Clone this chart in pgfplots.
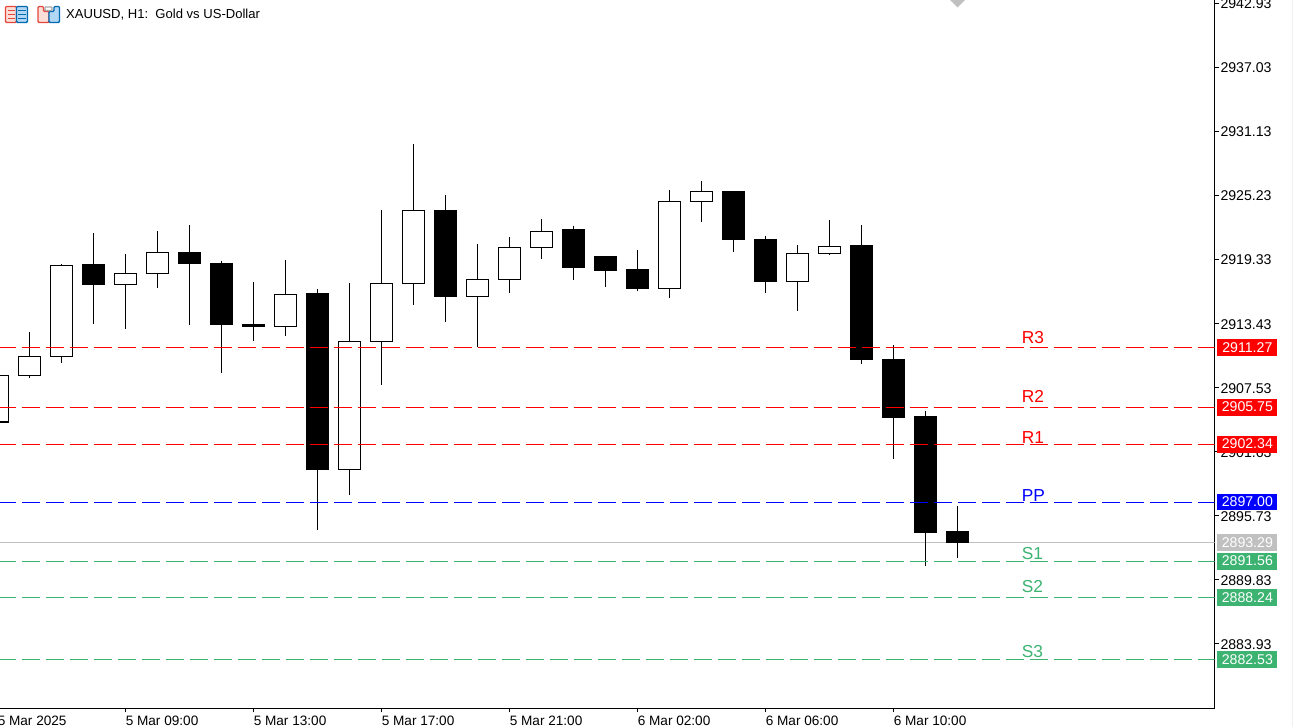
\documentclass[border=0pt]{standalone}
\usepackage{pgfplots}
\pgfplotsset{compat=1.18}
\usepackage{fontspec}
\setmainfont{Liberation Sans}
\definecolor{sgreen}{RGB}{60,179,113}
\definecolor{silverc}{RGB}{192,192,192}
\definecolor{iconred}{RGB}{228,72,60}
\definecolor{iconblue}{RGB}{0,105,175}
\definecolor{iconredl}{RGB}{252,222,216}
\definecolor{iconbluel}{RGB}{176,216,246}
\tikzset{
  lbl/.style={anchor=west,inner sep=0pt,font=\fontsize{13}{15}\selectfont},
  pbox/.style={anchor=west,inner sep=0pt,minimum width=45pt,minimum height=12.6pt,text=white,font=\fontsize{10.6}{12}\selectfont},
}
% colour, index, low, body bottom, body top, high
\newcommand{\candle}[6]{%
  \pgfmathsetmacro\xL{#2-0.333}\pgfmathsetmacro\xR{#2+0.333}%
  \addplot[black,line width=0.85pt,no markers] coordinates {(#2,#3) (#2,#6)};%
  \addplot[draw=black,fill=#1,line width=0.85pt,no markers,line join=miter] coordinates {(\xL,#4) (\xR,#4) (\xR,#5) (\xL,#5)} -- cycle;%
}
\newcommand{\wcandle}[5]{\candle{white}{#1}{#2}{#3}{#4}{#5}}
\newcommand{\bcandle}[5]{\candle{black}{#1}{#2}{#3}{#4}{#5}}
\newcommand{\level}[2]{\addplot[#1,line width=0.8pt,dash pattern=on 13.5pt off 4.5pt,line cap=butt,no markers] coordinates {(0,#2) (38.03,#2)};}
\begin{document}
\begin{tikzpicture}
\path[use as bounding box] (0pt,0pt) rectangle (969.75pt,545.25pt);
\begin{axis}[
  at={(-1.875pt,14.0pt)},anchor=south west,
  scale only axis,width=912.75pt,height=531.2pt,
  xmin=0,xmax=38.03,ymin=2878.00,ymax=2943.25,
  axis x line*=bottom,axis y line*=right,
  axis line style={line width=0.85pt,black},
  tick style={line width=0.75pt,black},
  major tick length=3pt,tick align=outside,
  xtick={0,4,8,12,16,20,24,28},
  xticklabels={5 Mar 2025,5 Mar 09:00,5 Mar 13:00,5 Mar 17:00,5 Mar 21:00,6 Mar 02:00,6 Mar 06:00,6 Mar 10:00},
  ytick={2883.93,2889.83,2895.73,2901.63,2907.53,2913.43,2919.33,2925.23,2931.13,2937.03,2942.93},
  yticklabels={2883.93,2889.83,2895.73,2901.63,2907.53,2913.43,2919.33,2925.23,2931.13,2937.03,2942.93},
  yticklabel style={font=\fontsize{10.6}{12}\selectfont,anchor=west,inner xsep=1.3pt,yshift=-0.3pt},
  xticklabel style={font=\fontsize{10.2}{12}\selectfont,anchor=north west,inner xsep=0pt,inner ysep=2.2pt},
]
\addplot[silverc,line width=0.85pt,no markers] coordinates {(0,2893.29) (38.03,2893.29)};
\wcandle{0}{2904.38}{2904.38}{2908.68}{2908.68}
\wcandle{1}{2908.46}{2908.68}{2910.43}{2912.67}
\wcandle{2}{2909.84}{2910.43}{2918.81}{2918.93}
\bcandle{3}{2913.43}{2917.02}{2918.84}{2921.79}
\wcandle{4}{2912.97}{2917.06}{2918.07}{2919.85}
\wcandle{5}{2916.75}{2918.07}{2920.01}{2921.97}
\bcandle{6}{2913.34}{2918.96}{2920.01}{2922.52}
\bcandle{7}{2908.92}{2913.34}{2918.99}{2919.21}
\bcandle{8}{2911.86}{2913.15}{2913.40}{2917.27}
\wcandle{9}{2912.33}{2913.19}{2916.14}{2919.30}
\bcandle{10}{2894.43}{2900.00}{2916.17}{2916.63}
\wcandle{11}{2897.65}{2900.00}{2911.81}{2917.18}
\wcandle{12}{2907.83}{2911.81}{2917.15}{2923.90}
\wcandle{13}{2915.18}{2917.15}{2923.88}{2929.98}
\bcandle{14}{2913.61}{2915.92}{2923.90}{2925.29}
\wcandle{15}{2911.26}{2915.95}{2917.52}{2920.77}
\wcandle{16}{2916.29}{2917.52}{2920.47}{2921.42}
\wcandle{17}{2919.42}{2920.47}{2921.94}{2923.08}
\bcandle{18}{2917.48}{2918.59}{2922.15}{2922.43}
\bcandle{19}{2916.84}{2918.31}{2919.58}{2919.67}
\bcandle{20}{2916.47}{2916.65}{2918.38}{2920.22}
\wcandle{21}{2915.83}{2916.69}{2924.71}{2925.75}
\wcandle{22}{2922.83}{2924.71}{2925.63}{2926.58}
\bcandle{23}{2920.06}{2921.17}{2925.65}{2925.65}
\bcandle{24}{2916.29}{2917.30}{2921.23}{2921.51}
\wcandle{25}{2914.63}{2917.34}{2919.92}{2920.68}
\wcandle{26}{2919.79}{2919.92}{2920.56}{2922.98}
\bcandle{27}{2909.75}{2910.11}{2920.59}{2922.52}
\bcandle{28}{2900.99}{2904.77}{2910.09}{2911.47}
\bcandle{29}{2891.14}{2894.18}{2904.84}{2905.39}
\bcandle{30}{2891.88}{2893.26}{2894.24}{2896.64}
\level{red}{2911.27}
\level{red}{2905.75}
\level{red}{2902.34}
\level{blue}{2897.00}
\level{sgreen}{2891.56}
\level{sgreen}{2888.24}
\level{sgreen}{2882.53}
\addplot[only marks,mark=square*,mark size=3.7pt,mark options={rotate=45,silverc,fill=silverc,draw=silverc}] coordinates {(30,2943.25)};
\end{axis}
\begin{axis}[
  at={(-1.875pt,14.0pt)},anchor=south west,
  scale only axis,width=912.75pt,height=531.2pt,
  xmin=0,xmax=38.03,ymin=2878.00,ymax=2943.25,
  hide axis,clip=false,
]
\node[lbl,text=red] at (axis cs:32.0,2912.18) {R3};
\node[lbl,text=red] at (axis cs:32.0,2906.72) {R2};
\node[lbl,text=red] at (axis cs:32.0,2902.95) {R1};
\node[lbl,text=blue] at (axis cs:32.0,2897.60) {PP};
\node[lbl,text=sgreen] at (axis cs:32.0,2892.25) {S1};
\node[lbl,text=sgreen] at (axis cs:32.0,2889.21) {S2};
\node[lbl,text=sgreen] at (axis cs:32.0,2883.22) {S3};
\node[pbox,fill=red] at (axis cs:38.11,2911.27) {2911.27};
\node[pbox,fill=red] at (axis cs:38.11,2905.75) {2905.75};
\node[pbox,fill=red] at (axis cs:38.11,2902.34) {2902.34};
\node[pbox,fill=blue] at (axis cs:38.11,2897.00) {2897.00};
\node[pbox,fill=silverc] at (axis cs:38.11,2893.29) {2893.29};
\node[pbox,fill=sgreen] at (axis cs:38.11,2891.56) {2891.56};
\node[pbox,fill=sgreen] at (axis cs:38.11,2888.24) {2888.24};
\node[pbox,fill=sgreen] at (axis cs:38.11,2882.53) {2882.53};
\end{axis}
\begin{scope}[x=0.75pt,y=-0.75pt,yshift=545.25pt,line width=1pt]
% title and toolbar icons
\node[anchor=west,inner sep=0pt,font=\fontsize{9.8}{12}\selectfont] at (65.5,15) {XAUUSD, H1:\ \ Gold vs US-Dollar};
\draw[iconred,fill=iconredl,rounded corners=0.8pt] (5.5,6.5) rectangle (16.5,22.5);
\draw[iconblue,fill=iconbluel,rounded corners=0.8pt] (16.5,6.5) rectangle (27.5,22.5);
\foreach \yy in {10.5,14.5,18.5}{
  \draw[iconred] (7.5,\yy) -- (15,\yy);
  \draw[iconblue] (18,\yy) -- (26,\yy);
}
\draw[iconred,fill=iconredl,rounded corners=0.8pt] (38,6.5) -- (43.5,6.5) -- (43.5,11.5) -- (49,11.5) -- (49,22.5) -- (38,22.5) -- cycle;
\draw[iconblue,fill=iconbluel,rounded corners=0.8pt] (49,22.5) -- (49,11.5) -- (54,11.5) -- (54,6.5) -- (59.5,6.5) -- (59.5,22.5) -- cycle;
\draw[gray!70,fill=white,rounded corners=0.6pt] (45,7) rectangle (52,10.5);
\draw[black!6,line width=0.75pt] (1292.5,0) -- (1292.5,727);
\end{scope}
\end{tikzpicture}
\end{document}
